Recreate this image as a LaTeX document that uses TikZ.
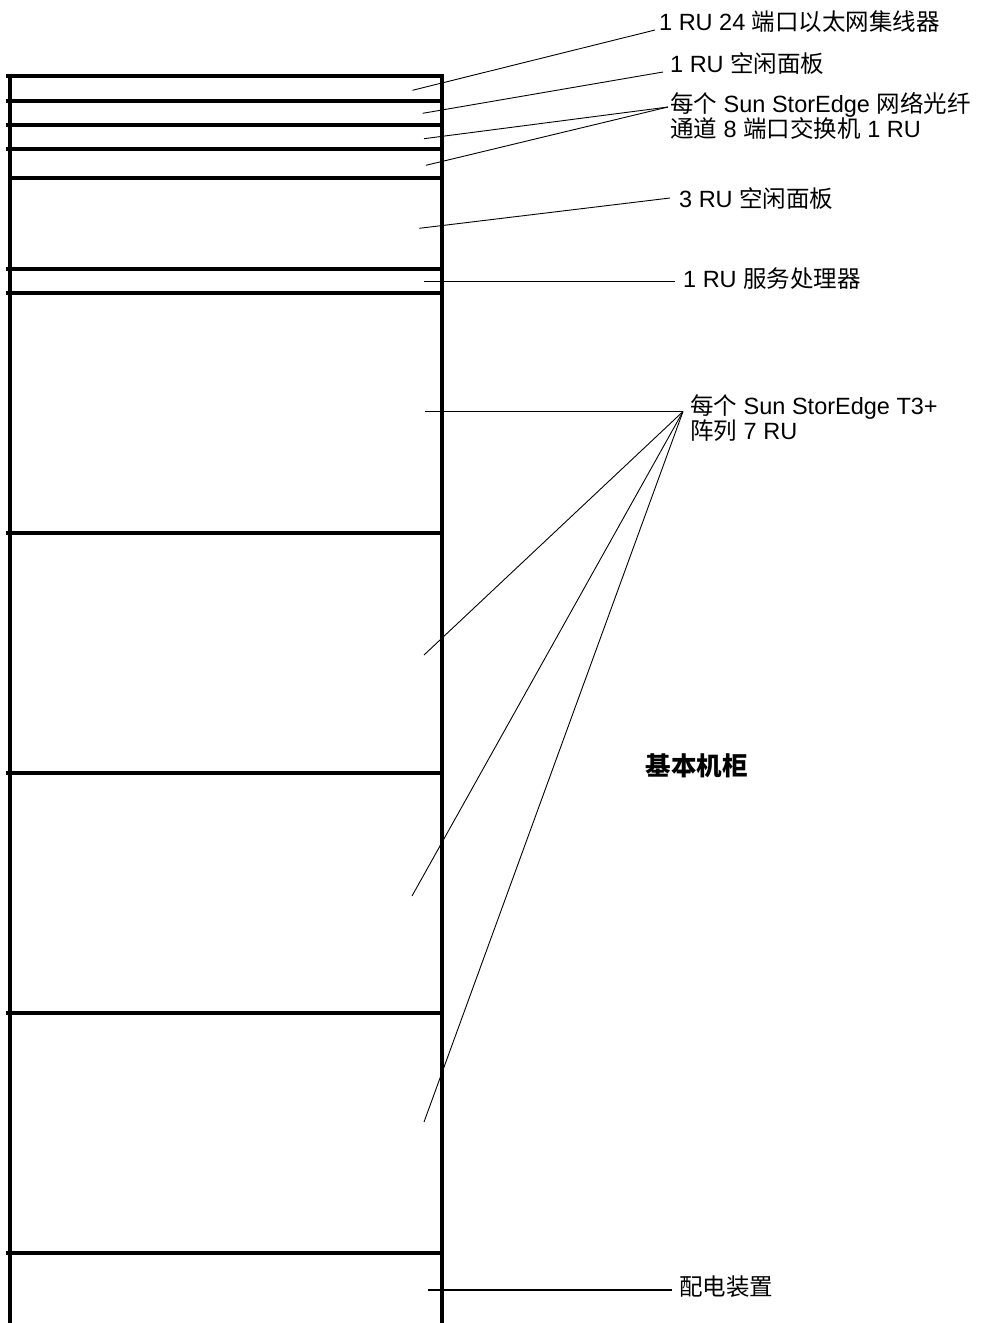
\documentclass[tikz,border=0pt]{standalone}
\usepackage{fontspec}
\setmainfont{Liberation Sans}
\newfontfamily\cjk{Noto Sans CJK SC}
\begin{document}
\begin{tikzpicture}[x=1pt,y=-1pt,
  shelf/.style={line width=3.3pt},
  rackside/.style={line width=3.3pt},
  leader/.style={line width=0.9pt},
  lbl/.style={anchor=base west,inner sep=0pt,align=left,font=\fontsize{23.5}{25}\selectfont},
  title/.style={anchor=base,inner sep=0pt,font=\fontsize{25.5}{28}\selectfont\bfseries}]
\useasboundingbox (0,0) rectangle (982,1323);
\fill[white] (0,0) rectangle (982,1323);
% rack
\draw[rackside] (10,75) -- (10,1323);
\draw[rackside] (442,75) -- (442,1323);
\draw[line width=4pt] (6,76) -- (443.6,76);
\foreach \y in {101,125,149,269,293,533,773,1013,1253}
  \draw[shelf] (6,\y) -- (442,\y);
\draw[shelf] (10,178) -- (442,178);
% labels
\node[lbl] (l1) at (659,30) {1 RU 24 {\cjk 端口以太网集线器}};
\node[lbl] (l2) at (670,72) {1 RU {\cjk 空闲面板}};
\node[lbl] (l3) at (670,137) {{\cjk 每个} Sun StorEdge {\cjk 网络光纤}\\{\cjk 通道} 8 {\cjk 端口交换机} 1 RU};
\node[lbl] (l4) at (679,207) {3 RU {\cjk 空闲面板}};
\node[lbl] (l5) at (683,287) {1 RU {\cjk 服务处理器}};
\node[lbl] (l6) at (690,439) {{\cjk 每个} Sun StorEdge T3+\\{\cjk 阵列} 7 RU};
\node[title] (t) at (696.5,775) {\cjk 基本机柜};
\node[lbl] (l7) at (679,1295) {\cjk 配电装置};
% connector end points
\coordinate (a1) at (412.5,90.3);  \coordinate (e1) at (655,30);
\coordinate (a2) at (422.7,113.3); \coordinate (e2) at (663,72);
\coordinate (a3) at (424,138.7);   \coordinate (e3) at (668,107);
\coordinate (a4) at (426,165.3);
\coordinate (a5) at (419.3,228.3); \coordinate (e5) at (670,198);
\coordinate (a6) at (424,281.5);   \coordinate (e6) at (675,281.5);
\coordinate (a7) at (425,411.5);   \coordinate (e7) at (683,411.5);
\coordinate (a8) at (424,655);
\coordinate (a9) at (412,896);
\coordinate (a10) at (424,1122);
\coordinate (a11) at (428,1290);   \coordinate (e11) at (672,1290);
% connectors
\draw[leader] (a1) -- (e1);
\draw[leader] (a2) -- (e2);
\draw[leader] (a3) -- (e3);
\draw[leader] (a4) -- (e3);
\draw[leader] (a5) -- (e5);
\draw[leader,line width=1.3pt] (a6) -- (e6);
\draw[leader,line width=1.3pt] (a7) -- (e7);
\draw[leader] (a8) -- (e7);
\draw[leader] (a9) -- (e7);
\draw[leader] (a10) -- (e7);
\draw[leader,line width=1.3pt] (a11) -- (e11);
\end{tikzpicture}
\end{document}
